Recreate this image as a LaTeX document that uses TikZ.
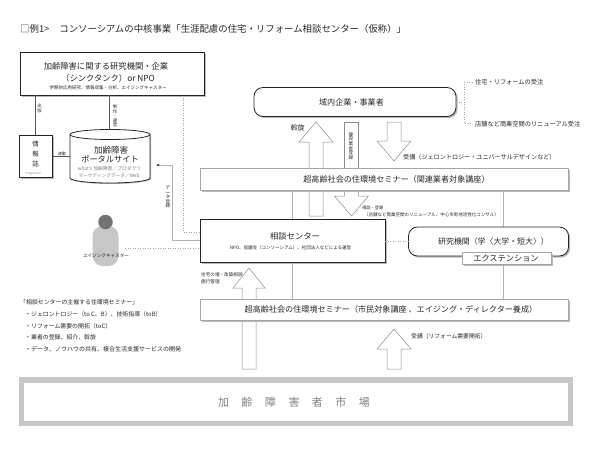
\documentclass[tikz,border=0pt]{standalone}
\usepackage{fontspec}
\setmainfont{Noto Sans CJK JP}
\usetikzlibrary{shadows,arrows.meta}
\newcommand{\pTxt}[1]{\fontsize{#1}{#1}\selectfont}
\newcommand{\pUpArrow}[5]{\draw[blockarrow] (#1,#2) -- (#1+#3,#4) -- (#1+7,#4) -- (#1+7,#5) -- (#1-7,#5) -- (#1-7,#4) -- (#1-#3,#4) -- cycle;}
\tikzset{
  softshadow/.style={drop shadow={shadow xshift=#1,shadow yshift=-#1,fill=black!28,opacity=1}},
  shadowbox/.style={draw=black!85,fill=white,minimum width=#1,inner sep=0pt,softshadow=1.6pt},
  mainbox/.style={shadowbox=#1,line width=0.9pt},
  seminarbox/.style={shadowbox=#1,draw=black!35,line width=0.6pt},
  roundbox/.style={shadowbox=#1,rounded corners=9pt,line width=0.8pt},
  txt/.style={inner sep=0pt,align=center,text=black!85},
  ltxt/.style={txt,anchor=west,align=left},
  stack/.style={txt,font=\pTxt{#1}},
  thicklink/.style={draw=black!65,line width=1pt},
  softlink/.style={draw=black!30,line width=0.7pt},
  dotlink/.style={draw=black!35,line width=0.5pt,dotted},
  blockarrow/.style={draw=black!45,fill=white,line width=0.5pt},
}
\begin{document}
\begin{tikzpicture}[x=1pt,y=-1pt]
\useasboundingbox (0,0) rectangle (600,450);
\node[ltxt] (title) at (20,29) {\pTxt{9.4}□例1>\hspace{10pt}コンソーシアムの中核事業「生涯配慮の住宅・リフォーム相談センター（仮称）」};
% soft lines behind the boxes
\coordinate (dotA) at (183,95);
\coordinate (dotB) at (183,232);
\coordinate (regA) at (172,240);
\coordinate (regB) at (172,165);
\coordinate (regC) at (156,165);
\coordinate (noteA) at (464,102);
\coordinate (noteB) at (464,82);
\coordinate (noteC) at (472,82);
\coordinate (noteD) at (464,123);
\coordinate (noteE) at (472,123);
\draw[softlink] (292.5,190) -- (292.5,219);
\draw[softlink] (292.5,262) -- (292.5,299);
\draw[softlink] (503,190) -- (503,299);
\node[mainbox=185pt,minimum height=43pt] (center) at (292.5,240.5) {};
\draw[dotlink] (dotA) -- (dotB) -- (dotB-|center.west);
\draw[softlink,-{Latex[length=3pt,width=3pt,black!75]}] (regA-|center.west) -- (regA) -- (regB) -- (regC);
% top left
\node[mainbox=184pt,minimum height=43pt] (research) at (112,73.5) {};
\node[txt] at (106,66) {\pTxt{8.3}加齢障害に関する研究機関・企業};
\node[txt] at (108,78) {\pTxt{8.3}（シンクタンク）or NPO};
\node[txt] at (108,88) {\pTxt{4.5}学際的応用研究、情報収集・分析、エイジングキャスター};
\node[shadowbox=33pt,minimum height=42pt,line width=0.7pt,softshadow=1pt] (magazine) at (35.5,156) {};
\node[txt] at (35.5,144) {\pTxt{6.5}情};
\node[txt] at (35.5,154) {\pTxt{6.5}報};
\node[txt] at (35.5,164) {\pTxt{6.5}誌};
\node[txt,text=black!35] at (33,173.5) {\pTxt{3.6}magazine};
\node[minimum width=80pt,minimum height=53pt,inner sep=0pt] (portal) at (110,156.5) {};
\draw[draw=black!85,fill=white,line width=0.8pt,softshadow=1pt] (70,134.5) arc[start angle=180,end angle=0,x radius=40pt,y radius=5pt] -- (150,178) arc[start angle=360,end angle=180,x radius=40pt,y radius=5pt] -- cycle;
\draw[draw=black!85,line width=0.8pt] (70,134.5) arc[start angle=180,end angle=360,x radius=40pt,y radius=5pt];
\coordinate (portalTop) at (109,130);
\draw[thicklink] (magazine.north|-research.south) -- (magazine.north);
\draw[thicklink] (portalTop|-research.south) -- (portalTop);
\draw[thicklink,line width=0.7pt] (magazine.east) -- (portal.west|-magazine.east);
\node[stack=4.4] at (39.5,108.5) {出\\版};
\node[stack=4.4] at (115,116) {制\\作\\・\\運\\営};
\node[txt] at (62,154) {\pTxt{4}連動};
\node[txt] at (111,150) {\pTxt{8.5}加齢障害};
\node[txt] at (110,159.5) {\pTxt{8.2}ポータルサイト};
\node[txt,text=black!50] at (109.5,169) {\pTxt{4.8}what's 加齢障害／プロダクツ};
\node[txt,text=black!50] at (109,176) {\pTxt{4.7}マーケティングデータ／Web};
\node[stack=4.6] at (168,197) {デ\\ー\\タ\\登\\録};
% person
\node[draw=none,fill=black!22,rounded corners=10pt,minimum width=26pt,minimum height=40pt,inner sep=0pt] (casterBody) at (105.5,246) {};
\node[circle,fill=black!55,minimum size=14.5pt,inner sep=0pt] (casterHead) at (105.5,222) {};
\node[txt] (caster) at (106,256) {\pTxt{4.6}エイジングキャスター};
\coordinate (casterEnd) at (125,248);
\draw[dotlink] (casterEnd) -- (casterEnd-|center.west);
% center
\node[txt] at (295,236.5) {\pTxt{8.3}相談センター};
\node[txt] at (290.5,248) {\pTxt{4.5}NPO、協議会（コンソーシアム）、社団法人などによる運営};
% block arrows
\pUpArrow{316}{122}{17}{142}{216}
\pUpArrow{394}{161}{17}{141}{122}
\pUpArrow{351.5}{216}{17}{196}{190}
\pUpArrow{249}{268}{16}{288}{369}
\pUpArrow{394}{329}{17}{349}{369}
\node[draw=black!45,fill=white,line width=0.5pt,minimum width=14pt,minimum height=46pt,inner sep=0pt] (entryStrip) at (351,145) {};
\node[stack=4.6] at (351,146) {優\\良\\業\\者\\登\\録};
\node[seminarbox=368pt,minimum height=22pt] (seminarA) at (384,179) {};
\node[seminarbox=368pt,minimum height=21pt] (seminarB) at (384,309.5) {};
\node[txt] at (396.5,179) {\pTxt{8.1}超高齢社会の住環境セミナー（関連業者対象講座）};
\node[txt] at (391,309.5) {\pTxt{8.1}超高齢社会の住環境セミナー（市民対象講座 、エイジング・ディレクター養成）};
% top right
\node[roundbox=202pt,minimum height=29pt] (firms) at (355,102) {};
\node[txt] at (351.5,102.5) {\pTxt{8.1}域内企業・事業者};
\draw[dotlink] (firms.east) -- (noteA);
\draw[dotlink] (noteC) -- (noteB) -- (noteD) -- (noteE);
\node[ltxt] (noteUp) at (475,82.5) {\pTxt{6.2}住宅・リフォームの受注};
\node[ltxt] (noteDown) at (475,124.5) {\pTxt{6.2}店舗など商業空間のリニューアル受注};
% research institute
\node[roundbox=160pt,minimum height=29pt] (institute) at (488.5,241.5) {};
\node[txt] at (493.5,241.5) {\pTxt{7.9}研究機関（学〈大学・短大〉）};
\node[shadowbox=89pt,draw=black!35,minimum height=12pt,line width=0.6pt] (extension) at (506.5,258) {};
\node[txt] at (506,258.5) {\pTxt{8.2}エクステンション};
\draw[dotlink] (center.east|-institute.west) -- (institute.west);
% labels
\node[txt] at (297.5,128) {\pTxt{7}斡旋};
\node[ltxt] at (403,157) {\pTxt{6.1}受講（ジェロントロジー・ユニバーサルデザインなど）};
\node[ltxt] at (362,208) {\pTxt{4.2}相談・登録};
\node[ltxt] at (364,214.5) {\pTxt{4.5}（店舗など商業空間のリニューアル、中心市街地活性化コンサル）};
\node[ltxt] at (201,275) {\pTxt{4.6}住宅の増・改築相談};
\node[ltxt] at (201,281.5) {\pTxt{4.6}施行管理};
\node[ltxt] at (411,336.5) {\pTxt{5.8}受講（リフォーム需要開拓）};
% left notes
\node[ltxt] at (20,302) {\pTxt{5.9}「相談センターの主催する住環境セミナー」};
\node[ltxt] at (25,314) {\pTxt{5.9}・ジェロントロジー（to C、B）、技術指導（toB）};
\node[ltxt] at (25,326) {\pTxt{5.9}・リフォーム需要の開拓（toC）};
\node[ltxt] at (25,337.5) {\pTxt{5.9}・業者の登録、紹介、斡旋};
\node[ltxt] at (25,349) {\pTxt{6}・データ、ノウハウの共有、複合生活支援サービスの開発};
% market
\node[draw=black!22,fill=white,line width=5.5pt,minimum width=549pt,minimum height=43.5pt,inner sep=0pt] (market) at (296,401.75) {};
\node[txt,text=black!50] at (294,402) {\pTxt{11}加\hspace{12.5pt}齢\hspace{12.5pt}障\hspace{12.5pt}害\hspace{12.5pt}者\hspace{12.5pt}市\hspace{12.5pt}場};
\end{tikzpicture}
\end{document}
